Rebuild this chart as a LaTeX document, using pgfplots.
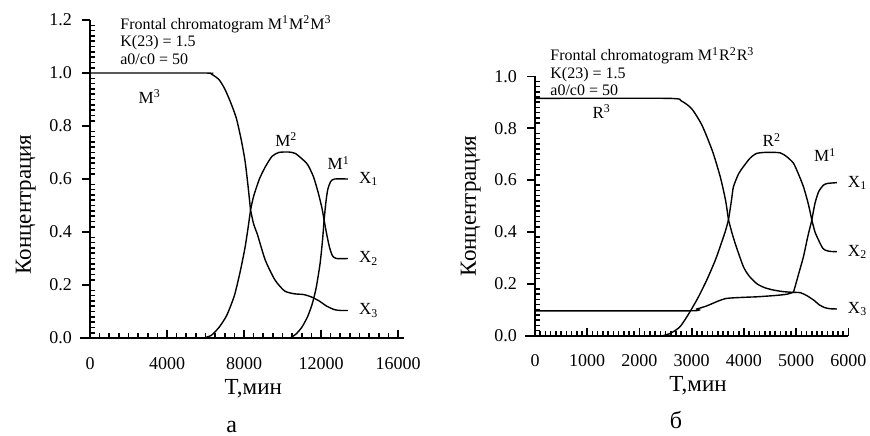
\documentclass[border=0pt]{standalone}
\usepackage{fontspec}
\setmainfont{Liberation Serif}
\usepackage{pgfplots}
\pgfplotsset{compat=1.18}

\pgfplotsset{chrom/.style={
  scale only axis,
  axis lines=left,
  axis line style={-, line width=0.8pt},
  x axis line style={shorten <=-5pt},
  tick align=inside,
  major tick length=4pt, minor tick length=2.5pt,
  every tick/.append style={black, line width=0.8pt},
  every major y tick/.append style={xshift=-4pt},
  minor y tick num=9,
  yticklabel style={xshift=-5.5pt, /pgf/number format/fixed, /pgf/number format/fixed zerofill, /pgf/number format/precision=1},
  xticklabel style={yshift=-6pt},
  /pgf/number format/assume math mode=true,
  /pgf/number format/1000 sep={},
  scaled ticks=false,
  ticklabel style={font=\fontsize{9}{11}\selectfont},
  label style={font=\fontsize{11.5}{13}\selectfont},
  xlabel={T,мин},
  ylabel={Концентрация},
  clip=false,
  cycle list={{black, solid}},
  every axis plot/.append style={black, line width=0.7pt, smooth, tension=0.4, no markers},
}}
\newcommand{\annot}{\fontsize{8}{8.75}\selectfont}
\newcommand{\clab}{\fontsize{8.5}{10}\selectfont}

\begin{document}
\begin{tikzpicture}
% panel a
\begin{axis}[chrom, at={(0,0)}, anchor=south west,
  width=154pt, height=159pt,
  xmin=0, xmax=16000, ymin=0, ymax=1.2,
  x axis line style={shorten >=-3pt},
  xtick={0,4000,8000,12000,16000}, minor x tick num=7,
  ytick={0,0.2,0.4,0.6,0.8,1.0,1.2},
  xlabel style={at={(ticklabel cs:0.53)}, yshift=2pt},
  ylabel style={at={(ticklabel cs:0.42)}}]
% M3
\addplot coordinates {(0,1.0) (5900,1.0) (6300,0.996) (6700,0.975) (7000,0.94) (7300,0.89) (7600,0.83) (7850,0.75) (8050,0.67) (8200,0.58) (8340,0.483)};
\addplot coordinates {(8340,0.483) (8500,0.43) (8700,0.39) (9100,0.295) (9600,0.22) (10100,0.178) (10600,0.167) (11100,0.164) (11500,0.155) (11900,0.14) (12300,0.12) (12700,0.107) (13000,0.104) (13400,0.104)};
% M2
\addplot coordinates {(5900,0) (6300,0.01) (6700,0.04) (7100,0.085) (7500,0.16) (7800,0.25) (8050,0.34) (8200,0.41) (8340,0.483)};
\addplot coordinates {(8340,0.483) (8500,0.535) (8800,0.6) (9100,0.645) (9450,0.685) (9800,0.7) (10300,0.702) (10650,0.697) (10950,0.68) (11300,0.655) (11600,0.61) (11850,0.55) (12050,0.49) (12160,0.445)};
\addplot coordinates {(12160,0.445) (12300,0.39) (12450,0.34) (12600,0.31) (12800,0.3) (13400,0.3)};
% M1
\addplot coordinates {(10400,0) (10700,0.015) (11000,0.04) (11300,0.08) (11550,0.13) (11750,0.19) (11950,0.28) (12080,0.37) (12160,0.445)};
\addplot coordinates {(12160,0.445) (12250,0.51) (12350,0.56) (12500,0.59) (12700,0.6) (13400,0.6)};
\node[anchor=north west, align=left, font=\annot, inner sep=0] at (axis cs:1558,1.218)
  {Frontal chromatogram M\textsuperscript{1}M\textsuperscript{2}M\textsuperscript{3}\\K(23) = 1.5\\a0/c0 = 50};
\node[font=\clab] at (axis cs:3100,0.91) {M\textsuperscript{3}};
\node[font=\clab] at (axis cs:10200,0.75) {M\textsuperscript{2}};
\node[font=\clab] at (axis cs:12920,0.66) {M\textsuperscript{1}};
\node[font=\clab, anchor=west, xshift=2pt] at (axis cs:13400,0.6) {X\textsubscript{1}};
\node[font=\clab, anchor=west, xshift=2pt] at (axis cs:13400,0.3) {X\textsubscript{2}};
\node[font=\clab, anchor=west, xshift=2pt] at (axis cs:13400,0.104) {X\textsubscript{3}};
\node[font=\fontsize{12}{14}\selectfont] at (axis description cs:0.46,-0.28) {а};
\end{axis}
% panel b
\begin{axis}[chrom, at={(222.5pt,1.15pt)}, anchor=south west,
  width=156.7pt, height=129.7pt,
  xmin=0, xmax=6000, ymin=0, ymax=1.0,
  xtick={0,1000,2000,3000,4000,5000,6000}, minor x tick num=9,
  ytick={0,0.2,0.4,0.6,0.8,1.0},
  xlabel style={at={(ticklabel cs:0.52)}, yshift=2pt}]
% R3
\addplot coordinates {(0,0.915) (2550,0.915) (2800,0.905) (3000,0.875) (3200,0.81) (3400,0.71) (3550,0.61) (3650,0.52) (3704,0.446)};
\addplot coordinates {(3704,0.446) (3780,0.39) (3850,0.345) (3990,0.266) (4100,0.23) (4250,0.2) (4400,0.185) (4565,0.176) (4750,0.17) (4950,0.167) (5080,0.166) (5200,0.155) (5330,0.138) (5450,0.118) (5550,0.108) (5650,0.104) (5780,0.103)};
% lower plateau and M1
\addplot coordinates {(0,0.096) (2950,0.096) (3100,0.103) (3289,0.115) (3500,0.133) (3672,0.144) (4000,0.148) (4247,0.15) (4600,0.155) (4822,0.16) (4950,0.168)};
\addplot coordinates {(4950,0.168) (5050,0.24) (5140,0.305) (5220,0.38) (5300,0.446)};
\addplot coordinates {(5300,0.446) (5360,0.51) (5430,0.555) (5520,0.58) (5600,0.587) (5780,0.59)};
% R2
\addplot coordinates {(2450,0) (2600,0.01) (2778,0.035) (2969,0.093) (3130,0.15) (3289,0.215) (3450,0.29) (3544,0.343) (3640,0.4) (3704,0.446)};
\addplot coordinates {(3704,0.446) (3760,0.52) (3799,0.574) (3900,0.625) (3991,0.652) (4120,0.685) (4247,0.703) (4450,0.707) (4693,0.705) (4820,0.69) (4948,0.665) (5040,0.625) (5140,0.574) (5230,0.51) (5300,0.446)};
\addplot coordinates {(5300,0.446) (5360,0.4) (5428,0.369) (5500,0.34) (5556,0.33) (5650,0.325) (5780,0.324)};
\node[anchor=north west, align=left, font=\annot, inner sep=0] at (axis cs:287,1.114)
  {Frontal chromatogram M\textsuperscript{1}R\textsuperscript{2}R\textsuperscript{3}\\K(23) = 1.5\\a0/c0 = 50};
\node[font=\clab] at (axis cs:1277,0.865) {R\textsuperscript{3}};
\node[font=\clab] at (axis cs:4534,0.754) {R\textsuperscript{2}};
\node[font=\clab] at (axis cs:5556,0.697) {M\textsuperscript{1}};
\node[font=\clab, anchor=west, xshift=2pt] at (axis cs:5780,0.59) {X\textsubscript{1}};
\node[font=\clab, anchor=west, xshift=2pt] at (axis cs:5780,0.324) {X\textsubscript{2}};
\node[font=\clab, anchor=west, xshift=2pt] at (axis cs:5780,0.103) {X\textsubscript{3}};
\node[font=\fontsize{12}{14}\selectfont] at (axis description cs:0.45,-0.325) {б};
\end{axis}
\pgfresetboundingbox
\useasboundingbox (-45pt,-48.5pt) rectangle (390pt,169pt);
\end{tikzpicture}
\end{document}
